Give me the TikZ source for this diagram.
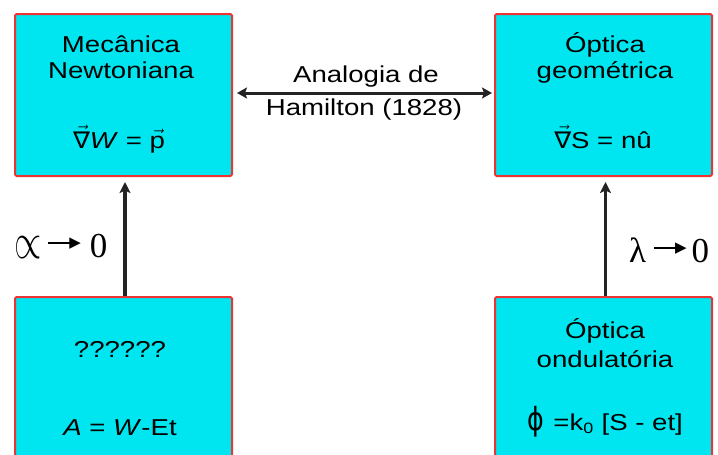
\documentclass[tikz,border=0pt]{standalone}
\usepackage{fix-cm}
\usepackage{graphicx}
\usepackage{fontspec}
\setmainfont{Liberation Sans}[FakeStretch=1.2]
\newfontfamily\dejavu{DejaVu Sans}[FakeStretch=1.1]
\newfontfamily\dejavutri{DejaVu Sans}
\newfontfamily\lserif{Liberation Serif}
\usetikzlibrary{arrows.meta}
\definecolor{boxfill}{RGB}{0,230,240}
\definecolor{boxline}{RGB}{236,52,52}
\definecolor{arrcol}{RGB}{35,35,35}
\newsavebox\tribox
\newcommand\triptip{\sbox\tribox{\dejavutri\fontsize{15}{15}\selectfont ▶}%
  \raisebox{\dimexpr 13.8pt-0.5\ht\tribox+0.5\dp\tribox\relax}{\usebox\tribox}}
\newcommand\limarrow{\rule[12.9pt]{25pt}{1.8pt}\kern-4pt\triptip}
\tikzset{
  box/.style={draw=boxline, fill=boxfill, line width=2pt, rounded corners=1.5pt,
    minimum width=217pt, minimum height=162pt, inner sep=0pt},
  lbl/.style={font=\fontsize{23}{26}\selectfont, anchor=base, inner sep=0pt},
  glbl/.style={font=\lserif\fontsize{35}{37}\selectfont, anchor=base west, inner sep=0pt},
  arr/.style={draw=arrcol, line width=3.2pt, -{Stealth[length=11pt,width=11pt,inset=2.5pt]}},
  darr/.style={draw=arrcol, line width=3pt, {Stealth[length=10pt,width=11pt,inset=2pt]}-{Stealth[length=10pt,width=11pt,inset=2pt]}}
}
\begin{document}
\begin{tikzpicture}[x=1pt,y=-1pt]
\useasboundingbox (0,0) rectangle (718,455);
\clip (0,0) rectangle (718,455);
\node[box] (tl) at (123.5,95) {};
\node[box] (tr) at (603.5,95) {};
\node[box, minimum height=175pt] (bl) at (123.5,384.5) {};
\node[box, minimum height=175pt] (br) at (603.5,384.5) {};

\node[lbl] (t1) at (121,52) {Mecânica};
\node[lbl] (t2) at (121,78) {Newtoniana};
\node[lbl] (t3) at (119,148) {$\vec{\mbox{\dejavu ∇}}$\textit{W} = $\vec{\mbox{p}}$};

\node[lbl] (t4) at (605,52) {Óptica};
\node[lbl] (t5) at (605,78) {geométrica};
\node[lbl] (t6) at (603,148) {$\vec{\mbox{\dejavu ∇}}$S = nû};

\node[lbl] (t7) at (120,357) {??????};
\node[lbl] (t8) at (120,435) {\textit{A} = \textit{W}-Et};

\node[lbl] (t9) at (605,338) {Óptica};
\node[lbl] (t10) at (605,367) {ondulatória};
\node[lbl] (t11) at (605,430) {\scalebox{1.15}[1.45]{\dejavutri\fontsize{22}{22}\selectfont ϕ}\hspace{2pt} =k$_{\mbox{\fontsize{15}{16}\selectfont 0}}$ [S - et]};

\node[lbl] (h1) at (366,82) {Analogia de};
\node[lbl] (h2) at (364,115) {Hamilton (1828)};

\node[glbl] (g1) at (14,257) {\raisebox{-1pt}{\scalebox{1.0}[1.45]{$\propto$}}\hspace{7pt}\limarrow\hspace{9pt}0};
\node[glbl] (g2) at (629,262) {λ\hspace{8pt}\limarrow\hspace{5pt}0};

\draw[darr] ([xshift=4pt,yshift=2pt]tl.east) -- ([xshift=-2pt,yshift=2pt]tr.west);
\draw[arr, shorten >=5pt] ([xshift=1.5pt]bl.north) -- ([xshift=1.5pt]tl.south);
\draw[arr, shorten >=5pt] ([xshift=2pt]br.north) -- ([xshift=2pt]tr.south);
\end{tikzpicture}
\end{document}
